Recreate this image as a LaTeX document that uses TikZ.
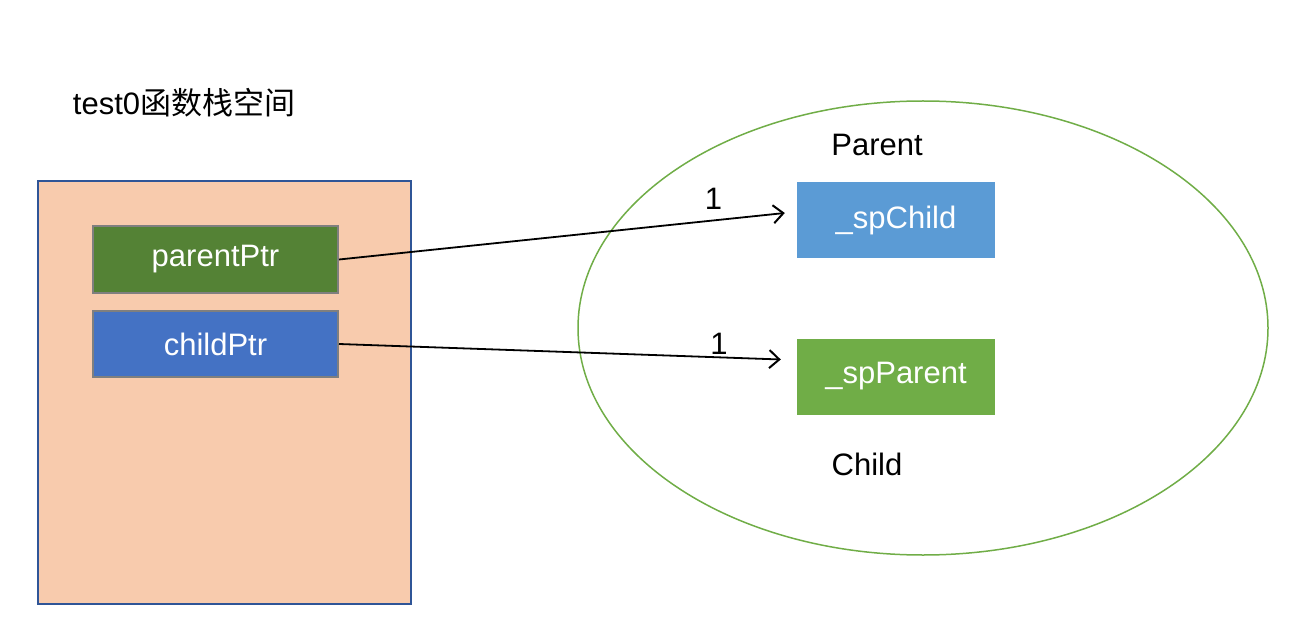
\documentclass[tikz,border=0pt]{standalone}
\usepackage{fontspec}
\setmainfont{Liberation Sans}
\newfontfamily\cjk{Noto Sans CJK SC}
\usetikzlibrary{calc,arrows.meta,shapes.geometric}
\definecolor{stackfill}{HTML}{F8CBAD}
\definecolor{stackdraw}{HTML}{2F5597}
\definecolor{ppfill}{HTML}{548235}
\definecolor{cpfill}{HTML}{4472C4}
\definecolor{boxgray}{HTML}{7F7F7F}
\definecolor{spcfill}{HTML}{5B9BD5}
\definecolor{sppfill}{HTML}{70AD47}
\definecolor{ellgreen}{HTML}{70AD47}
\tikzset{
  lbl/.style={font=\fontsize{31}{36}\selectfont, text=black, inner sep=0pt},
  ptrbox/.style={draw=boxgray, line width=2pt, minimum width=245pt, minimum height=66pt, inner sep=0pt, text=white, font=\fontsize{31}{36}\selectfont},
  membox/.style={minimum width=198pt, minimum height=76pt, inner sep=0pt, text=white, font=\fontsize{31}{36}\selectfont},
  conn/.style={-{Straight Barb[length=10pt,width=18pt,line width=2pt]}, line width=1.8pt, black}
}
\begin{document}
\begin{tikzpicture}[x=1pt,y=-1pt]
\useasboundingbox (0,0) rectangle (1300,644);
\node[lbl] (title) at (184,103) {test0{\cjk 函数栈空间}};
\node[draw=stackdraw, fill=stackfill, line width=1.5pt, minimum width=373pt, minimum height=423pt, inner sep=0pt] (stack) at (224.5,392.5) {};
\node[ptrbox, fill=ppfill] (pp) at (215.5,259.5) {parentPtr};
\node[ptrbox, fill=cpfill] (cp) at (215.5,344) {childPtr};
\node[draw=ellgreen, line width=1.5pt, ellipse, minimum width=690pt, minimum height=454pt, inner sep=0pt] (ell) at (923,328) {};
\node[membox, fill=spcfill] (spc) at (896,220) {\_spChild};
\node[membox, fill=sppfill] (spp) at (896,376.5) {\_spParent};
\node[lbl] (parent) at (877,145) {Parent};
\node[lbl] (child) at (867,464) {Child};
\draw[conn] (pp.east) -- ($(spc.west)+(-12,-7)$) node[pos=0.84, above, lbl, yshift=10pt] (l1) {1};
\draw[conn] (cp.east) -- ($(spp.west)+(-16,-17)$) node[pos=0.86, above, lbl, yshift=2pt] (l2) {1};
\end{tikzpicture}
\end{document}
